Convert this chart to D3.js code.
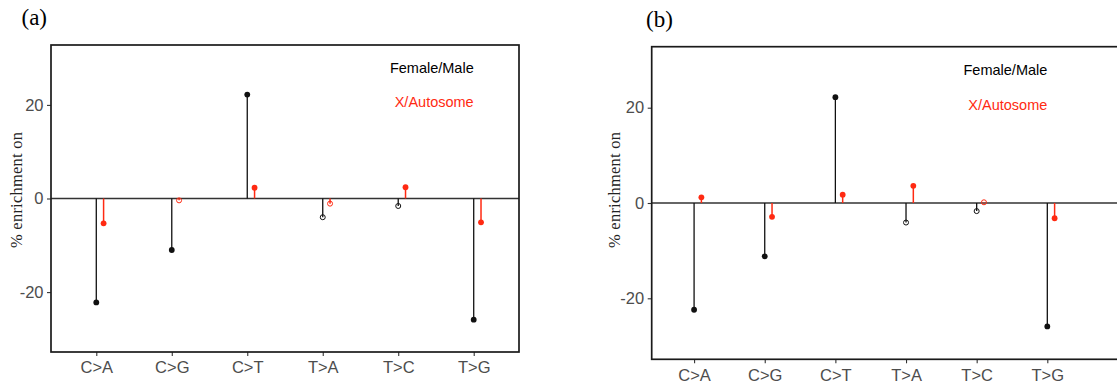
<!DOCTYPE html>
<html>
<head>
<meta charset="utf-8">
<script src="https://cdn.jsdelivr.net/npm/d3@7"></script>
<style>
  body { margin: 0; background: #fff; }
  svg { display: block; }
</style>
</head>
<body>
<script>
// categories + values
const categories = ["C>A", "C>G", "C>T", "T>A", "T>C", "T>G"];

const femaleMaleA = [-22.2, -11.0, 22.2, -4.0, -1.6, -25.9];
const xAutoA      = [-5.3, -0.4, 2.3, -1.1, 2.4, -5.1];
const femaleMaleSigA = [true, true, true, false, false, true];
const xAutoSigA      = [true, false, true, false, true, true];

const femaleMaleB = [-22.4, -11.2, 22.2, -4.1, -1.7, -25.9];
const xAutoB      = [1.2, -2.9, 1.75, 3.6, 0.15, -3.2];
const femaleMaleSigB = [true, true, true, false, false, true];
const xAutoSigB      = [true, true, true, true, false, true];

const yTicks = [-20, 0, 20];
const legendLabels = ["Female/Male", "X/Autosome"];
const legendY = [28, 20.7];
const yLabel = "% enrichment on";

const red = "#ff2a12";
const black = "#111";

const svg = d3.select("body").append("svg")
  .attr("width", 1117)
  .attr("height", 388);

const panels = [
  {label: "(a)", fm: femaleMaleA, xa: xAutoA, fmSig: femaleMaleSigA, xaSig: xAutoSigA,
   left: 51, right: 519, top: 45, bottom: 352, frameRight: 519,
   ylabX: 22, tagX: 21.5, tagY: 25},
  {label: "(b)", fm: femaleMaleB, xa: xAutoB, fmSig: femaleMaleSigB, xaSig: xAutoSigB,
   left: 651.7, right: 1089.7, top: 46.7, bottom: 359.3, frameRight: 1130,
   ylabX: 620, tagX: 646, tagY: 27}
];

panels.forEach(function(p) {
  let g = svg.append("g");

  let x = d3.scalePoint().domain(categories).range([p.left, p.right]).padding(0.6);
  let y = d3.scaleLinear().domain([-32.8, 32.8]).range([p.bottom, p.top]);
  let dodge = 7.3; // red series sits just right of the black one

  // panel tag
  g.append("text")
    .attr("x", p.tagX).attr("y", p.tagY)
    .style("font-family", "'Liberation Serif', 'Times New Roman', serif")
    .style("font-size", "23px")
    .text(p.label);

  // y axis title
  g.append("text")
    .attr("transform", "translate(" + p.ylabX + "," + 190 + ") rotate(-90)")
    .attr("text-anchor", "middle")
    .attr("textLength", 116)
    .style("font-family", "'Liberation Serif', 'Times New Roman', serif")
    .style("font-size", "16.5px")
    .style("fill", "#222")
    .text(yLabel);

  let plot = g.append("g");

  // zero line
  plot.append("line")
    .attr("x1", p.left).attr("x2", p.frameRight)
    .attr("y1", y(0)).attr("y2", y(0))
    .attr("stroke", "#333").attr("stroke-width", 1.6);

  // Female/Male stems
  plot.selectAll(".fm-stem").data(p.fm).enter().append("line")
    .attr("class", "fm-stem")
    .attr("x1", (d, i) => x(categories[i])).attr("x2", (d, i) => x(categories[i]))
    .attr("y1", y(0)).attr("y2", d => y(d))
    .attr("stroke", black).attr("stroke-width", 1.3);

  // X/Autosome stems
  plot.selectAll(".xa-stem").data(p.xa).enter().append("line")
    .attr("class", "xa-stem")
    .attr("x1", (d, i) => x(categories[i]) + dodge).attr("x2", (d, i) => x(categories[i]) + dodge)
    .attr("y1", y(0)).attr("y2", d => y(d))
    .attr("stroke", red).attr("stroke-width", 1.5);

  // points - filled when significant, open otherwise
  plot.selectAll(".fm-dot").data(p.fm).enter().append("circle")
    .attr("class", "fm-dot")
    .attr("cx", (d, i) => x(categories[i])).attr("cy", d => y(d))
    .attr("r", (d, i) => p.fmSig[i] ? 2.9 : 2.5)
    .attr("fill", (d, i) => p.fmSig[i] ? black : "none")
    .attr("stroke", black).attr("stroke-width", (d, i) => p.fmSig[i] ? 0 : 1);

  plot.selectAll(".xa-dot").data(p.xa).enter().append("circle")
    .attr("class", "xa-dot")
    .attr("cx", (d, i) => x(categories[i]) + dodge).attr("cy", d => y(d))
    .attr("r", (d, i) => p.xaSig[i] ? 2.9 : 2.5)
    .attr("fill", (d, i) => p.xaSig[i] ? red : "none")
    .attr("stroke", red).attr("stroke-width", (d, i) => p.xaSig[i] ? 0 : 1);

  // legend as text annotations, right-aligned on the last category
  g.selectAll(".leg").data(legendLabels).enter().append("text")
    .attr("class", "leg")
    .attr("x", x(categories[categories.length - 1]))
    .attr("y", (d, i) => y(legendY[i]))
    .attr("dy", "0.36em")
    .attr("text-anchor", "end")
    .style("font-family", "'Liberation Sans', Arial, sans-serif")
    .style("font-size", "14.5px")
    .style("fill", (d, i) => i === 0 ? "#000" : red)
    .text(d => d);

  // axes (plain hyphen for negatives, like the original)
  let yAxis = g.append("g")
    .attr("transform", "translate(" + p.left + ",0)")
    .call(d3.axisLeft(y).tickValues(yTicks).tickFormat(d => String(d)).tickSize(4).tickPadding(3.5));
  let xAxis = g.append("g")
    .attr("transform", "translate(0," + p.bottom + ")")
    .call(d3.axisBottom(x).tickSize(4).tickPadding(5.5));

  [yAxis, xAxis].forEach(function(a) {
    a.select(".domain").remove();
    a.selectAll("line").attr("stroke", "#333").attr("stroke-width", 1.1);
    a.selectAll("text")
      .style("font-family", "'Liberation Sans', Arial, sans-serif")
      .style("font-size", "16.5px")
      .style("fill", "#4d4d4d");
  });

  // panel frame
  g.append("rect")
    .attr("x", p.left).attr("y", p.top)
    .attr("width", p.frameRight - p.left).attr("height", p.bottom - p.top)
    .attr("fill", "none").attr("stroke", "#1a1a1a").attr("stroke-width", 1.7);
});
</script>
</body>
</html>
